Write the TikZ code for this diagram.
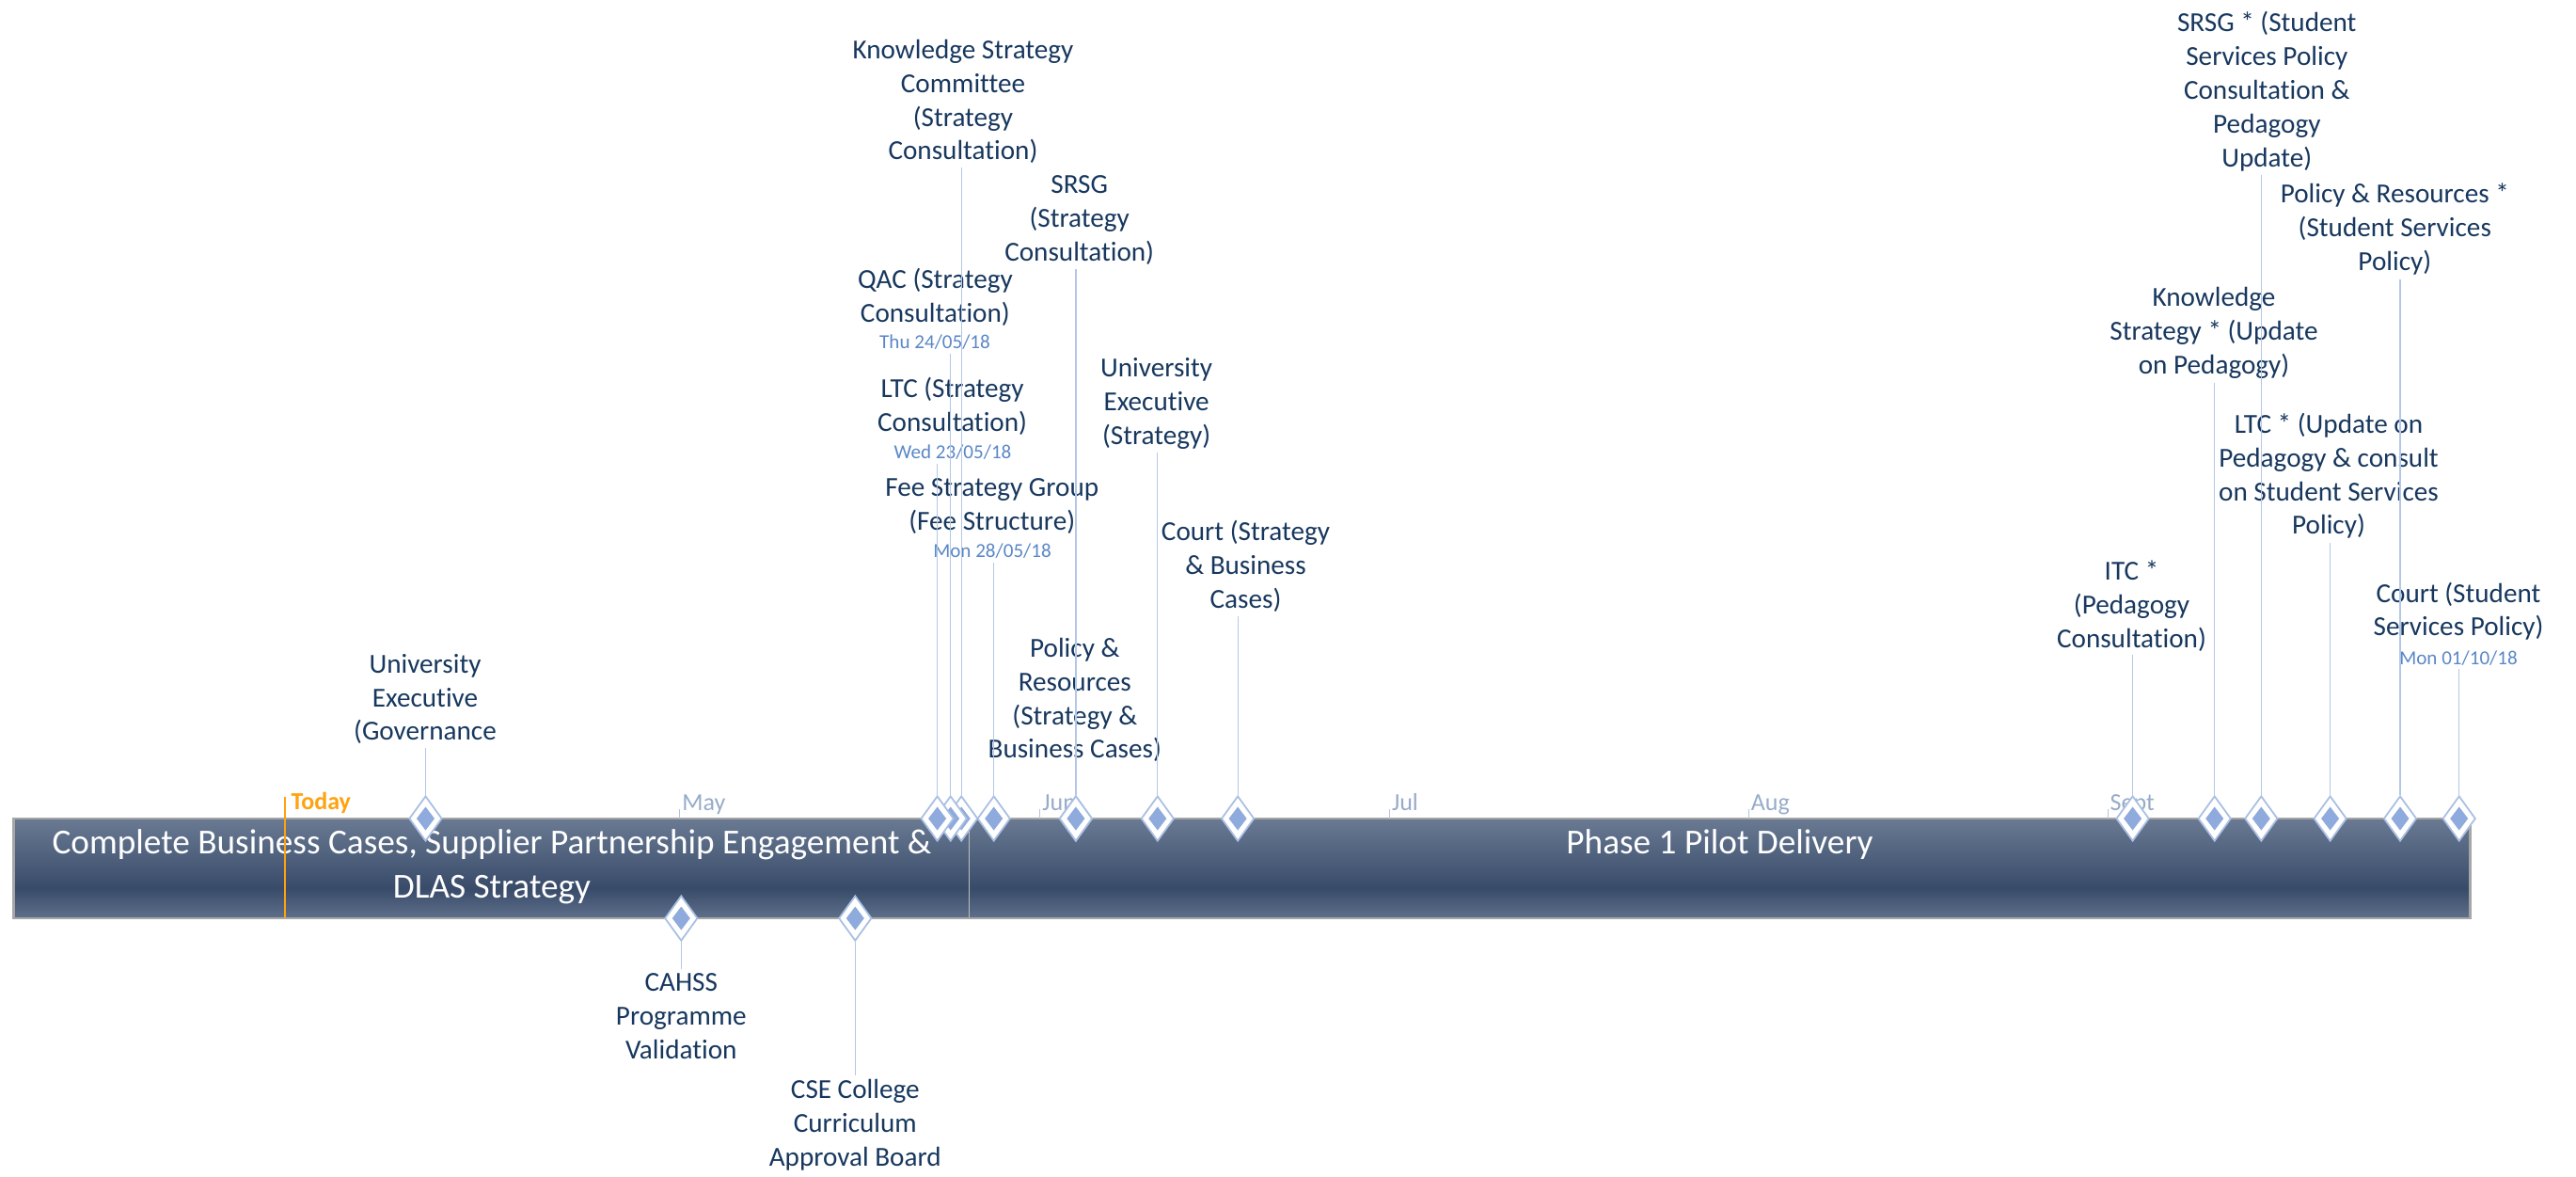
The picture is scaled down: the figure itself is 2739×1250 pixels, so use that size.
\documentclass[tikz,border=0pt]{standalone}
\usepackage{fontspec}
\setmainfont{Carlito}[Ligatures=NoCommon]
\usetikzlibrary{shapes.geometric}

\definecolor{lblblue}{HTML}{17375E}
\definecolor{dateblue}{HTML}{5A87C6}
\definecolor{stemblue}{HTML}{B4C7E7}
\definecolor{msfill}{HTML}{8FAADC}
\definecolor{msline}{HTML}{A9BFE2}
\definecolor{monthgrey}{HTML}{97ABC9}
\definecolor{todayorange}{HTML}{FFA20F}
\definecolor{bartop}{HTML}{6A7A93}
\definecolor{barmid}{HTML}{384B69}
\definecolor{barbot}{HTML}{5F708B}
\pgfdeclareverticalshading{barshade}{100bp}{color(0bp)=(barbot); color(25bp)=(barbot); color(40bp)=(barmid); color(75bp)=(bartop); color(100bp)=(bartop)}

\begin{document}
\begin{tikzpicture}[x=0.01cm,y=-0.01cm]
    % Define styles for bars, milestones and labels
    \tikzstyle{phase}=[rectangle,draw=black!25,line width=0.4pt,shading=barshade,inner sep=0pt,outer sep=0pt,minimum height=1.06cm]
    \tikzstyle{phasetext}=[text=white,align=center,inner sep=1pt,font=\fontsize{10.6}{13.4}\selectfont]
    \tikzstyle{milestone}=[diamond,draw=msline,line width=0.5pt,fill=white,inner sep=0pt,minimum width=0.35cm,minimum height=0.48cm,
        path picture={\fill[msfill] (path picture bounding box.center) ++(0,0.125cm) -- ++(0.095cm,-0.125cm) -- ++(-0.095cm,-0.125cm) -- ++(-0.095cm,0.125cm) -- cycle;}]
    \tikzstyle{stem}=[draw=stemblue,line width=0.35pt]
    \tikzstyle{lbl}=[align=center,text=lblblue,inner sep=1pt,font=\fontsize{8.3}{10.2}\selectfont]
    \tikzstyle{datelbl}=[text=dateblue,inner sep=1pt,font=\fontsize{6}{7}\selectfont]
    \tikzstyle{month}=[text=monthgrey,inner sep=0pt,font=\fontsize{7.4}{9}\selectfont]

    \useasboundingbox (0,0) rectangle (2739,1250);

    % Phase bar
    \node[phase,minimum width=10.16cm] (p1) at (523,923) {};
    \node[phase,minimum width=15.95cm] (p2) at (1828.5,923) {};
    \draw[draw=black!35,line width=0.8pt] (p1.north west) rectangle (p2.south east);
    \node[phasetext,anchor=north,yshift=-2pt] (t1) at (p1.north) {Complete Business Cases, Supplier Partnership Engagement \&\\DLAS Strategy};
    \node[phasetext,anchor=north,yshift=-2pt] (t2) at (p2.north) {Phase 1 Pilot Delivery};

    % Today marker
    \coordinate (tdtop) at (303,847);
    \draw[todayorange,line width=0.3pt] (tdtop) -- (tdtop |- p1.south);
    \node[month,anchor=base west,text=todayorange,font=\fontsize{7.4}{9}\selectfont\bfseries] (today) at (309,860) {Today};

    % Month ticks
    \foreach \x/\m in {722.6/May, 1105.6/Jun, 1477.3/Jul, 1859.2/Aug, 2241/Sept}{
        \draw[monthgrey!70,line width=0.3pt] (\x,860) -- (\x,870);
        \node[month,anchor=base west] (m\m) at (\x+2,861) {\m};
    }

    % Labels above the bar
    \node[lbl] (uegov) at (452,743) {University\\Executive\\(Governance};
    \node[lbl] (ksc) at (1024,108) {Knowledge Strategy\\Committee\\(Strategy\\Consultation)};
    \node[lbl] (srsg) at (1147.7,234) {SRSG\\(Strategy\\Consultation)};
    \node[lbl] (qac) at (994.4,316) {QAC (Strategy\\Consultation)};
    \node[datelbl] (qacdate) at (994,364) {Thu 24/05/18};
    \node[lbl] (ltc) at (1012.6,432) {LTC (Strategy\\Consultation)};
    \node[datelbl] (ltcdate) at (1013,481) {Wed 23/05/18};
    \node[lbl] (fee) at (1054.7,538) {Fee Strategy Group\\(Fee Structure)};
    \node[datelbl] (feedate) at (1055,586) {Mon 28/05/18};
    \node[lbl] (uestr) at (1229.6,428.7) {University\\Executive\\(Strategy)};
    \node[lbl] (court) at (1324.5,601.7) {Court (Strategy\\\& Business\\Cases)};
    \node[lbl] (pr) at (1142.8,744) {Policy \&\\Resources\\(Strategy \&\\Business Cases)};
    \node[lbl] (srsgb) at (2410.3,97.3) {SRSG * (Student\\Services Policy\\Consultation \&\\Pedagogy\\Update)};
    \node[lbl] (prb) at (2546.3,243.7) {Policy \& Resources *\\(Student Services\\Policy)};
    \node[lbl] (ksb) at (2354,354) {Knowledge\\Strategy * (Update\\on Pedagogy)};
    \node[lbl] (ltcb) at (2476,505.8) {LTC * (Update on\\Pedagogy \& consult\\on Student Services\\Policy)};
    \node[lbl] (itc) at (2266.5,644) {ITC *\\(Pedagogy\\Consultation)};
    \node[lbl] (courtb) at (2614,649.7) {Court (Student\\Services Policy)};
    \node[datelbl] (courtbdate) at (2614,699.3) {Mon 01/10/18};

    % Labels below the bar
    \node[lbl] (cahss) at (724.3,1080) {CAHSS\\Programme\\Validation};
    \node[lbl] (cse) at (909.3,1196) {CSE College\\Curriculum\\Approval Board};

    % Milestones above the bar (right to left in the cluster so the left one is on top)
    \foreach \n/\x/\l in {ueg/452.5/uegov, ksc/1022.2/ksc, qac/1010.7/qacdate, ltc/996.6/ltcdate,
        fee/1056.7/feedate, srsg/1143.9/srsg, pr/1143.9/pr, uestr/1230.8/uestr, court/1316.1/court,
        itc/2267.6/itc, ksb/2354.7/ksb, srsgb/2404.3/srsgb, ltcb/2477.6/ltcb, prb/2552/prb, courtb/2614.7/courtbdate}{
        \node[milestone] (d\n) at (\x,870) {};
        \draw[stem] (d\n.north) -- (d\n |- \l.south);
    }

    % Milestones below the bar
    \foreach \n/\x/\l in {cahss/724.3/cahss, cse/909.3/cse}{
        \node[milestone] (d\n) at (\x,976) {};
        \draw[stem] (d\n.south) -- (d\n |- \l.north);
    }
\end{tikzpicture}
\end{document}
